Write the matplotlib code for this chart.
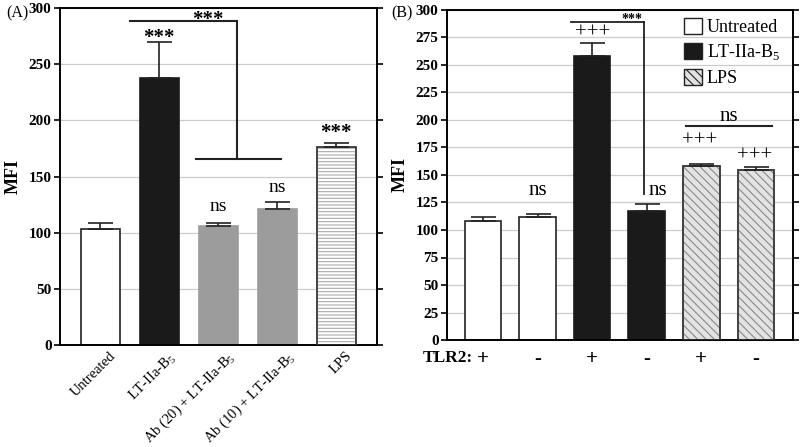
import matplotlib
matplotlib.use("Agg")
import matplotlib.pyplot as plt
from matplotlib.patches import Patch
from matplotlib.transforms import ScaledTranslation

plt.rcParams['font.family'] = ['Liberation Serif', 'DejaVu Serif']
plt.rcParams['mathtext.fontset'] = 'custom'
plt.rcParams['mathtext.rm'] = 'Liberation Serif'
plt.rcParams['hatch.linewidth'] = 0.8

# Panel A data
a_labels = ['Untreated', 'LT-IIa-B$_5$', 'Ab (20) + LT-IIa-B$_5$', 'Ab (10) + LT-IIa-B$_5$', 'LPS']
a_values = [103, 238, 105.5, 121, 176.5]
a_errors = [6, 32, 3, 6, 3.5]

# Panel B data
b_values = [108, 111.5, 258.5, 117.5, 158.5, 154.5]
b_errors = [4, 3, 11.5, 6, 1.5, 3]
b_tlr2 = ['+', '-', '+', '-', '+', '-']
b_groups = ['Untreated', 'Untreated', 'LT-IIa-B$_5$', 'LT-IIa-B$_5$', 'LPS', 'LPS']

fig = plt.figure(figsize=(8, 4.47), dpi=100)
axA = fig.add_axes([60/800, 102/447, 317/800, 337/447])
axB = fig.add_axes([447/800, 107/447, 346/800, 330/447])

def style(ax, ymax, step):
    ax.set_ylim(0, ymax)
    ax.set_yticks(range(0, ymax + 1, step))
    ax.yaxis.grid(True, color='#cccccc', lw=0.9)
    ax.set_axisbelow(True)
    for s in ax.spines.values():
        s.set_linewidth(1.4)
    ax.tick_params(axis='y', which='both', direction='out', length=4, width=1.2,
                   right=True, labelsize=11, pad=2)
    for t in ax.get_yticklabels():
        t.set_fontweight('bold')
    ax.set_ylabel('MFI', fontsize=13, fontweight='bold', labelpad=5)

# ---- Panel A ----
a_face = ['white', '#1a1a1a', '#9c9c9c', '#9c9c9c', 'white']
a_edge = ['#222222', '#1a1a1a', '#9c9c9c', '#9c9c9c', '#aaaaaa']
a_hatch = [None, None, None, None, '-----']
xa = list(range(len(a_values)))
for i in xa:
    axA.bar(i, a_values[i], width=0.66, color=a_face[i], edgecolor=a_edge[i],
            hatch=a_hatch[i], lw=1.2, zorder=2)
    if a_hatch[i]:
        axA.bar(i, a_values[i], width=0.66, color='none', edgecolor='#333333', lw=1.2, zorder=3)
    axA.errorbar(i, a_values[i], yerr=[[0], [a_errors[i]]], color='#222222',
                 capsize=9, lw=1.2, capthick=1.2, zorder=3)
axA.set_xlim(-0.68, 4.69)
style(axA, 300, 50)
axA.set_xticks(xa)
axA.set_xticklabels(a_labels, rotation=45, ha='right', rotation_mode='anchor', fontsize=10.5)
axA.tick_params(axis='x', length=0, pad=3)
off = ScaledTranslation(9/100, 0, fig.dpi_scale_trans)
for t in axA.get_xticklabels():
    t.set_transform(t.get_transform() + off)

star = dict(ha='center', va='center', fontsize=15, fontweight='bold')
axA.text(1, 273.5, '***', **star)
axA.text(4, 189, '***', **star)
axA.text(1.83, 289.5, '***', **star)
axA.text(2, 123, 'ns', ha='center', va='center', fontsize=14)
axA.text(3, 140, 'ns', ha='center', va='center', fontsize=14)
axA.plot([0.51, 2.32], [288, 288], color='#222222', lw=1.5, zorder=4)
axA.plot([2.32, 2.32], [288, 166], color='#222222', lw=1.5, zorder=4)
axA.plot([1.62, 3.06], [166, 166], color='#222222', lw=1.5, zorder=4)
fig.text(6/800, 1 - 13/447, '(A)', fontsize=11.5, va='center', ha='left')

# ---- Panel B ----
colmap = {'Untreated': ('white', '#222222', None),
          'LT-IIa-B$_5$': ('#1a1a1a', '#1a1a1a', None),
          'LPS': ('#e2e2e2', '#444444', '\\\\\\\\')}
xb = list(range(len(b_values)))
for i in xb:
    fc, ec, h = colmap[b_groups[i]]
    axB.bar(i, b_values[i], width=0.67, color=fc, edgecolor=ec if not h else '#888888',
            hatch=h, lw=1.2, zorder=2)
    if h:
        axB.bar(i, b_values[i], width=0.67, color='none', edgecolor='#333333', lw=1.2, zorder=3)
    axB.errorbar(i, b_values[i], yerr=[[0], [b_errors[i]]], color='#222222',
                 capsize=9, lw=1.2, capthick=1.2, zorder=3)
axB.set_xlim(-0.66, 5.68)
style(axB, 300, 25)
axB.set_xticks([])

for i in xb:
    axB.text(i, -17, b_tlr2[i], ha='center', va='center', fontsize=15, fontweight='bold',
             clip_on=False)
axB.text(-1.1, -16, 'TLR2:', ha='left', va='center', fontsize=12.5, fontweight='bold',
         clip_on=False)

pl = dict(ha='center', va='center', fontsize=15)
axB.text(2, 279, '+++', **pl)
axB.text(3.97, 181, '+++', **pl)
axB.text(4.98, 167, '+++', **pl)
axB.text(1, 135.5, 'ns', ha='center', va='center', fontsize=15)
axB.text(3.2, 135.5, 'ns', ha='center', va='center', fontsize=15)
axB.text(4.5, 203, 'ns', ha='center', va='center', fontsize=15)
axB.plot([1.61, 2.955], [289.5, 289.5], color='#222222', lw=1.3, zorder=4)
axB.plot([2.955, 2.955], [289.5, 133], color='#222222', lw=1.3, zorder=4)
axB.text(2.73, 291, '***', ha='center', va='center', fontsize=10, fontweight='bold')
axB.plot([3.72, 5.29], [194.5, 194.5], color='#222222', lw=1.5, zorder=4)

handles = [Patch(facecolor=colmap[g][0], edgecolor='#222222', hatch=colmap[g][2], lw=1.0)
           for g in ['Untreated', 'LT-IIa-B$_5$', 'LPS']]
leg = axB.legend(handles, ['Untreated', 'LT-IIa-B$_5$', 'LPS'], loc='upper right',
                 bbox_to_anchor=(1.0, 1.015), frameon=False, fontsize=13,
                 handlelength=1.0, handleheight=1.0, handletextpad=0.25,
                 labelspacing=0.35, borderaxespad=0.3)
fig.text(391/800, 1 - 13/447, '(B)', fontsize=11.5, va='center', ha='left')

fig.savefig('out.png', dpi=100)
